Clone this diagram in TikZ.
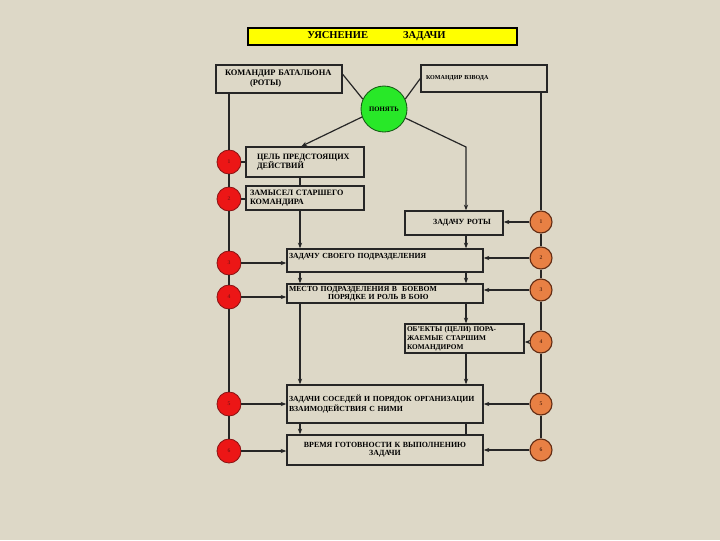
\documentclass[tikz,border=0pt]{standalone}
\usepackage{fontspec}
\setmainfont{Liberation Serif}
\usetikzlibrary{arrows.meta,calc}
\definecolor{bg}{RGB}{221,216,199}
\definecolor{redc}{RGB}{236,22,22}
\definecolor{redd}{RGB}{140,20,20}
\definecolor{orc}{RGB}{232,128,68}
\definecolor{ord}{RGB}{100,45,20}
\definecolor{grc}{RGB}{40,232,40}
\definecolor{grd}{RGB}{20,90,20}
\definecolor{yel}{RGB}{255,255,0}
\newdimen\pxd \pxd=0.025cm
\newcommand\fs[2]{\fontsize{#1}{#2}\selectfont\bfseries}
\begin{document}
\begin{tikzpicture}[x=0.025cm,y=-0.025cm,
  box/.style={draw=black!85, line width=1pt, inner ysep=0pt},
  con/.style={line width=0.85pt, draw=black!85},
  arr/.style={con,-{Stealth[length=4pt,width=3pt]}},
  rc/.style={circle, draw=redd, fill=redc, line width=0.6pt, minimum size=24\pxd, inner sep=0pt, font=\fs{4}{4}, text=redd},
  oc/.style={circle, draw=ord, fill=orc, line width=0.8pt, minimum size=22\pxd, inner sep=0pt, font=\fs{4}{4}, text=ord}]
\fill[bg] (0,0) rectangle (720,540);
\useasboundingbox (0,0) rectangle (720,540);

\node[draw=black, fill=yel, line width=1pt, minimum width=269\pxd, minimum height=17\pxd, inner sep=0pt, font=\fs{7.5}{8}] (title) at (382.5,36.5) {\hspace*{-12\pxd}УЯСНЕНИЕ\hspace{35\pxd}ЗАДАЧИ};

\node[box, minimum width=126\pxd, minimum height=28\pxd, text width=108\pxd, inner xsep=9\pxd, align=left, font=\fs{6}{7}] (batt) at (279,79) {КОМАНДИР БАТАЛЬОНА\\\hspace*{25\pxd}(РОТЫ)};
\node[box, minimum width=126\pxd, minimum height=27\pxd, text width=116\pxd, inner xsep=5\pxd, align=left, font=\fs{4.3}{5}] (plat) at (484,78.5) {КОМАНДИР ВЗВОДА};
\node[circle, draw=grd, fill=grc, line width=0.6pt, minimum size=46\pxd, inner sep=0pt, font=\fs{4.8}{5}] (pon) at (384,109) {ПОНЯТЬ};

\node[box, minimum width=118\pxd, minimum height=30\pxd, text width=96\pxd, inner xsep=11\pxd, align=left, font=\fs{5.8}{6.5}] (tsel) at (305,162) {ЦЕЛЬ ПРЕДСТОЯЩИХ\\ДЕЙСТВИЙ};
\node[box, minimum width=118\pxd, minimum height=24\pxd, text width=110\pxd, inner xsep=4\pxd, align=left, font=\fs{5.8}{6.5}] (zam) at (305,198) {ЗАМЫСЕЛ СТАРШЕГО\\КОМАНДИРА};
\node[box, minimum width=98\pxd, minimum height=24\pxd, text width=90\pxd, inner xsep=4\pxd, align=center, font=\fs{5.6}{6}] (rota) at (454,223) {\hspace*{16\pxd}ЗАДАЧУ РОТЫ};
\node[box, minimum width=196\pxd, minimum height=23\pxd, text width=192\pxd, inner xsep=2\pxd, align=left, font=\fs{5.5}{6}] (svo) at (385,260.5) {ЗАДАЧУ СВОЕГО ПОДРАЗДЕЛЕНИЯ\\[-1pt]\strut};
\node[box, minimum width=196\pxd, minimum height=19\pxd, text width=192\pxd, inner xsep=2\pxd, align=left, font=\fs{5.5}{5.7}] (mesto) at (385,293.5) {МЕСТО ПОДРАЗДЕЛЕНИЯ В\ \ БОЕВОМ\\\hspace*{39\pxd}ПОРЯДКЕ И РОЛЬ В БОЮ};
\node[box, minimum width=119\pxd, minimum height=29\pxd, text width=115\pxd, inner xsep=2\pxd, align=left, font=\fs{5.2}{6.3}] (obj) at (464.5,338.5) {ОБ’ЕКТЫ (ЦЕЛИ) ПОРА-\\ЖАЕМЫЕ СТАРШИМ\\КОМАНДИРОМ};
\node[box, minimum width=196\pxd, minimum height=38\pxd, text width=192\pxd, inner xsep=2\pxd, align=left, font=\fs{5.5}{5.8}] (sos) at (385,404) {ЗАДАЧИ СОСЕДЕЙ И ПОРЯДОК ОРГАНИЗАЦИИ\\ВЗАИМОДЕЙСТВИЯ С НИМИ};
\node[box, minimum width=196\pxd, minimum height=30\pxd, text width=192\pxd, inner xsep=2\pxd, align=center, font=\fs{5.6}{5.6}] (vrem) at (385,450) {ВРЕМЯ ГОТОВНОСТИ К ВЫПОЛНЕНИЮ\\ЗАДАЧИ};

\node[rc] (r1) at (229,162) {1};
\node[rc] (r2) at (229,199) {2};
\node[rc] (r3) at (229,263) {3};
\node[rc] (r4) at (229,297) {4};
\node[rc] (r5) at (229,404) {5};
\node[rc] (r6) at (229,451) {6};
\node[oc] (o1) at (541,222) {1};
\node[oc] (o2) at (541,258) {2};
\node[oc] (o3) at (541,290) {3};
\node[oc] (o4) at (541,342) {4};
\node[oc] (o5) at (541,404) {5};
\node[oc] (o6) at (541,450) {6};

\coordinate (cl) at (300,0);
\coordinate (cr) at (466,0);
\coordinate (bend) at (466,147);

% left vertical
\draw[con] (r1 |- batt.south) -- (r1);
\draw[con] (r1) -- (r2);
\draw[con] (r2) -- (r3);
\draw[con] (r3) -- (r4);
\draw[con] (r4) -- (r5);
\draw[con] (r5) -- (r6);
% right vertical
\draw[con] (o1 |- plat.south) -- (o1);
\draw[con] (o1) -- (o2);
\draw[con] (o2) -- (o3);
\draw[con] (o3) -- (o4);
\draw[con] (o4) -- (o5);
\draw[con] (o5) -- (o6);

% to the circle
\draw[con] ($(batt.north east)+(0,10)$) -- (pon.155);
\draw[con] (plat.west) -- (pon.25);
\draw[arr] (pon.200) -- ($(tsel.north west)+(56,0)$);
\draw[arr] (pon.337) -- (bend) -- (bend |- rota.north);

% left circles to boxes
\draw[con] (r1) -- (r1 -| tsel.west);
\draw[con] (r2) -- (r2 -| zam.west);
\draw[arr] (r3) -- (r3 -| svo.west);
\draw[arr] (r4) -- (r4 -| mesto.west);
\draw[arr] (r5) -- (r5 -| sos.west);
\draw[arr] (r6) -- (r6 -| vrem.west);
% right circles to boxes
\draw[arr] (o1) -- (o1 -| rota.east);
\draw[arr] (o2) -- (o2 -| svo.east);
\draw[arr] (o3) -- (o3 -| mesto.east);
\draw[arr] (o4) -- (o4 -| obj.east);
\draw[arr] (o5) -- (o5 -| sos.east);
\draw[arr] (o6) -- (o6 -| vrem.east);

% central columns
\draw[con] (cl |- tsel.south) -- (cl |- zam.north);
\draw[arr] (cl |- zam.south) -- (cl |- svo.north);
\draw[arr] (cl |- svo.south) -- (cl |- mesto.north);
\draw[arr] (cl |- mesto.south) -- (cl |- sos.north);
\draw[arr] (cl |- sos.south) -- (cl |- vrem.north);
\draw[arr] (cr |- rota.south) -- (cr |- svo.north);
\draw[arr] (cr |- svo.south) -- (cr |- mesto.north);
\draw[arr] (cr |- mesto.south) -- (cr |- obj.north);
\draw[arr] (cr |- obj.south) -- (cr |- sos.north);
\draw[con] (cr |- sos.south) -- (cr |- vrem.north);
\end{tikzpicture}
\end{document}
